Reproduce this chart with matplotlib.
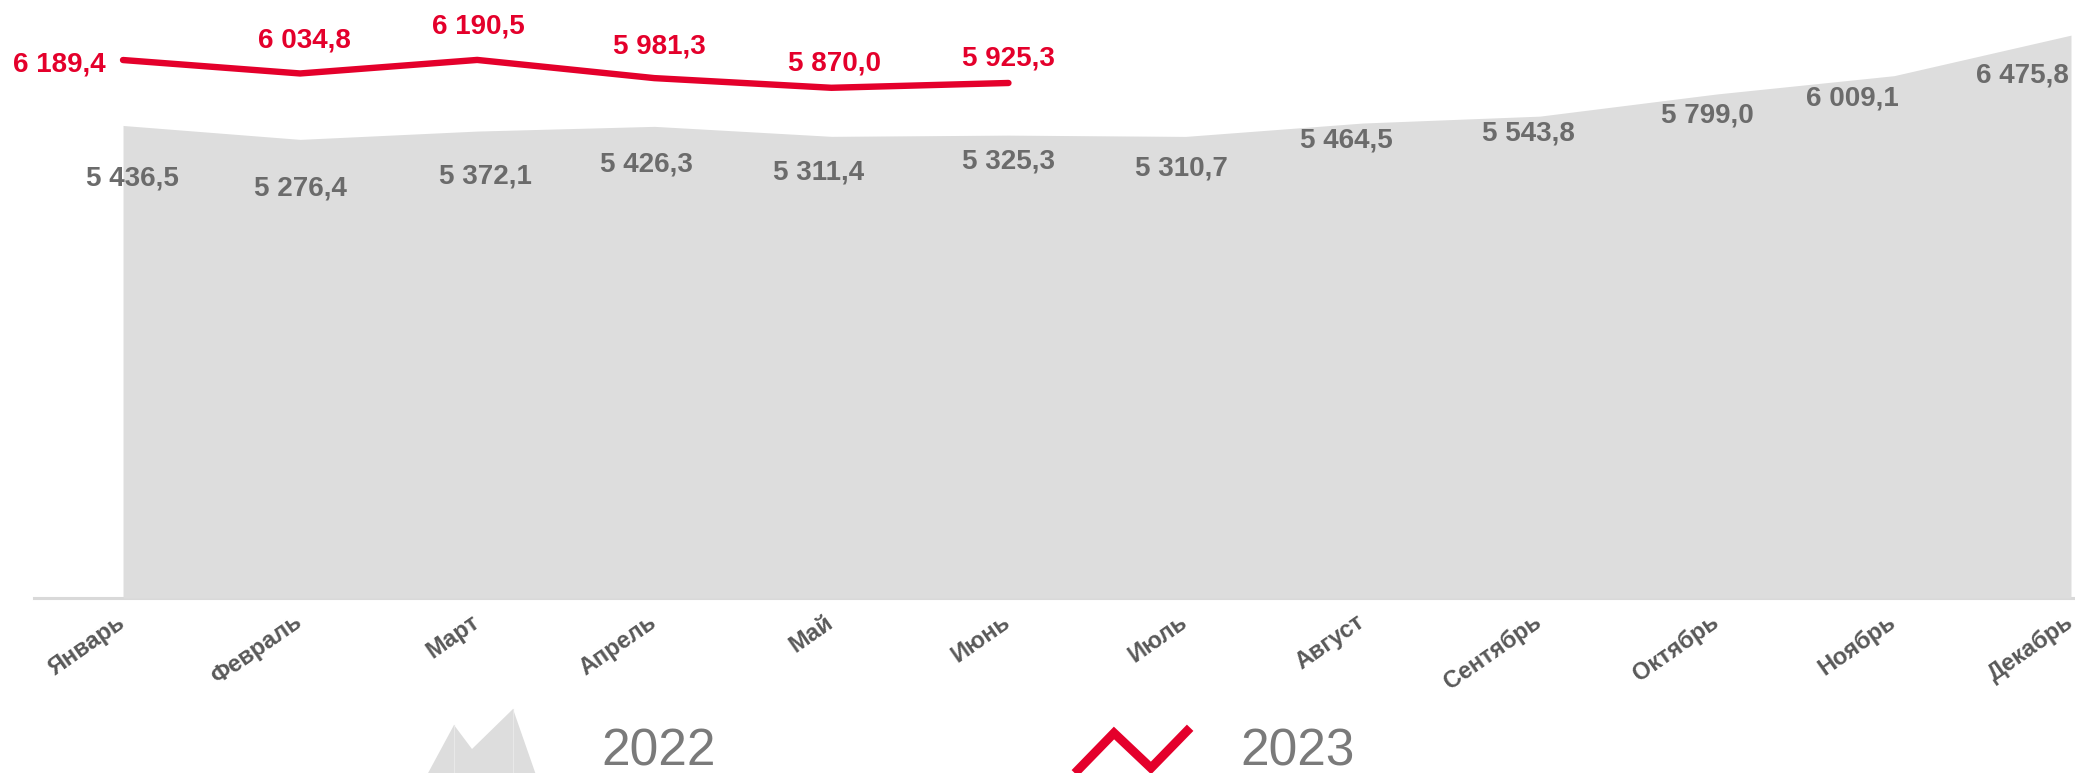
import matplotlib
matplotlib.use("Agg")
import matplotlib.pyplot as plt
import matplotlib.transforms as mtransforms
from matplotlib.patches import Polygon
from matplotlib.lines import Line2D

months = ["Январь", "Февраль", "Март", "Апрель", "Май", "Июнь", "Июль",
          "Август", "Сентябрь", "Октябрь", "Ноябрь", "Декабрь"]
values_2022 = [5436.5, 5276.4, 5372.1, 5426.3, 5311.4, 5325.3, 5310.7,
               5464.5, 5543.8, 5799.0, 6009.1, 6475.8]
values_2023 = [6189.4, 6034.8, 6190.5, 5981.3, 5870.0, 5925.3]
series_names = ["2022", "2023"]

# label offsets in pixels (dx, dy up) – styling only
off_2022 = [(9, -53), (0, -49), (8, -45), (-8, -38), (-13, -36), (0, -26),
            (-4, -32), (-16, -17), (-11, -17), (-9, -22), (-42, -23), (-49, -40)]
off_2023 = [(-64, -4), (4, 33), (1, 33), (5, 32), (3, 24), (0, 24)]

RED = "#E4002B"
GREY_AREA = "#DDDDDD"
GREY_LBL = "#6B6B6B"
GREY_TICK = "#595959"
GREY_LEG = "#7A7A7A"

def fmt(v):
    return f"{v:,.1f}".replace(",", " ").replace(".", ",")

W, H = 2075, 773
fig = plt.figure(figsize=(W / 100, H / 100), dpi=100)
ax = fig.add_axes([34 / W, (H - 598) / H, 1 - 34 / W, 598 / H])

x22 = list(range(len(values_2022)))
x23 = list(range(len(values_2023)))
ax.fill_between(x22, 0, values_2022, color=GREY_AREA, lw=0, zorder=1)
ax.plot(x23, values_2023, color=RED, lw=4.6, solid_capstyle="round", zorder=3)

bold = dict(family=["Liberation Sans", "DejaVu Sans"], weight="bold", fontsize=20)
for xi, v, (dx, dy) in zip(x22, values_2022, off_2022):
    ax.annotate(fmt(v), (xi, v), xytext=(dx, dy), textcoords="offset pixels",
                ha="center", va="center", color=GREY_LBL, zorder=4, **bold)
for xi, v, (dx, dy) in zip(x23, values_2023, off_2023):
    ax.annotate(fmt(v), (xi, v), xytext=(dx, dy), textcoords="offset pixels",
                ha="center", va="center", color=RED, zorder=4, **bold)

ax.set_xlim(-0.5026, 11.0226)
ax.set_ylim(0, 6880)
ax.set_yticks([])
ax.set_xticks(x22)
ax.set_xticklabels(months, rotation=35, ha="right", va="top", rotation_mode="anchor",
                   color=GREY_TICK, fontsize=17, fontweight="bold",
                   family=["Liberation Sans", "DejaVu Sans"])
ax.tick_params(axis="x", length=0, pad=9)
shift = mtransforms.ScaledTranslation(-7 / 100, 0, fig.dpi_scale_trans)
for lbl in ax.get_xticklabels():
    lbl.set_transform(lbl.get_transform() + shift)
for s in ["top", "left", "right"]:
    ax.spines[s].set_visible(False)
ax.spines["bottom"].set_color("#D9D9D9")
ax.spines["bottom"].set_linewidth(2.2)
ax.spines["bottom"].set_zorder(0)
ax.patch.set_alpha(0)

# legend (custom icons)
def fx(px):
    return px / W

def fy(py):
    return (H - py) / H

mount = [(427, 775), (454, 725), (472, 749), (513, 709), (536, 775)]
fig.add_artist(Polygon([(fx(a), fy(b)) for a, b in mount], closed=True,
                       facecolor=GREY_AREA, edgecolor="none", transform=fig.transFigure))
for xv, ytop in [(454, 725), (513, 709)]:
    fig.add_artist(Line2D([fx(xv), fx(xv)], [fy(ytop), fy(775)], color="#E8E8E8",
                          lw=0.8, transform=fig.transFigure))
zig = [(1078, 770), (1114, 733), (1151, 768), (1187, 731)]
fig.add_artist(Line2D([fx(a) for a, b in zig], [fy(b) for a, b in zig], color=RED,
                      lw=6.5, transform=fig.transFigure, solid_joinstyle="miter"))
leg_font = dict(family=["Liberation Sans Narrow", "Liberation Sans", "DejaVu Sans"],
                fontsize=37, color=GREY_LEG, va="baseline", ha="left")
fig.text(fx(601), fy(765), series_names[0], **leg_font)
fig.text(fx(1240), fy(765), series_names[1], **leg_font)

fig.savefig("out.png", dpi=100)
